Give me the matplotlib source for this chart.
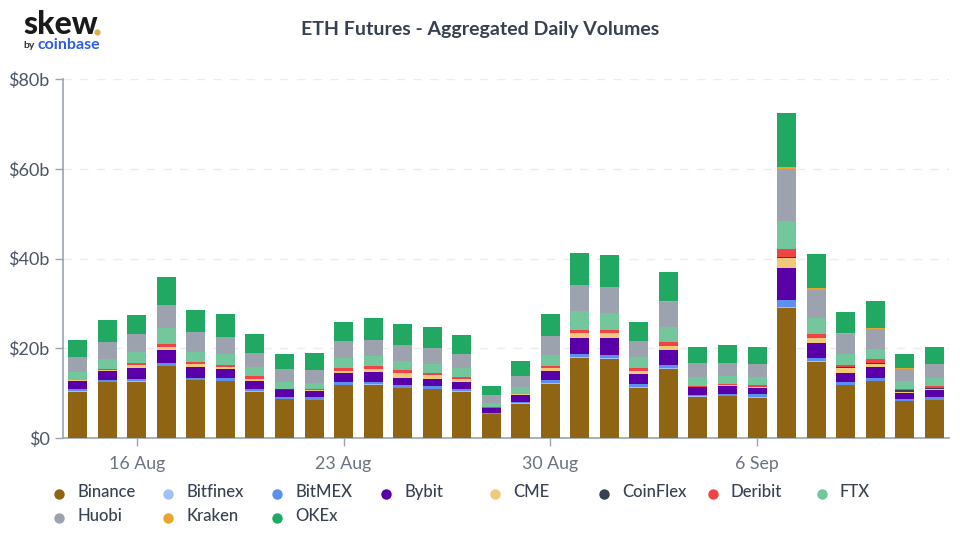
"""
plot.py
-------
ETH futures, aggregated daily volumes per exchange (stacked bars).
"""

import numpy as np
import pandas as pd
import matplotlib
matplotlib.use("Agg")
import matplotlib.pyplot as plt
from matplotlib.lines import Line2D

plt.rcParams['font.family'] = ['Lato', 'DejaVu Sans']

# === DATA (billions USD) ===
dates = pd.date_range("2021-08-14", periods=30)
tick_dates = ["2021-08-16", "2021-08-23", "2021-08-30", "2021-09-06"]
tick_labels = ["16 Aug", "23 Aug", "30 Aug", "6 Sep"]
y_ticks = [0, 20, 40, 60, 80]
y_labels = ["$0", "$20b", "$40b", "$60b", "$80b"]

binance = [10.3, 12.4, 12.55, 16.0, 12.85, 12.6, 10.3, 8.6, 8.4, 11.75,
           11.9, 11.15, 10.9, 10.3, 5.3, 7.6, 12.05, 17.9, 17.7, 11.2,
           15.45, 9.15, 9.3, 9.0, 29.0, 17.0, 11.8, 12.7, 8.25, 8.45]
bitfinex = [0.1, 0.1, 0.1, 0.1, 0.1, 0.1, 0.1, 0.1, 0.1, 0.1,
            0.1, 0.1, 0.1, 0.1, 0.1, 0.1, 0.1, 0.1, 0.1, 0.1,
            0.1, 0.1, 0.1, 0.1, 0.1, 0.1, 0.1, 0.1, 0.1, 0.1]
bitmex = [0.5, 0.35, 0.5, 0.7, 0.5, 0.6, 0.45, 0.45, 0.55, 0.7,
          0.55, 0.55, 0.5, 0.6, 0.25, 0.4, 0.7, 0.8, 0.7, 0.75,
          0.8, 0.4, 0.5, 0.65, 1.65, 0.8, 0.5, 0.5, 0.35, 0.5]
bybit = [1.9, 2.15, 2.55, 2.9, 2.45, 2.0, 1.75, 1.55, 1.5, 1.85,
         2.1, 1.65, 1.65, 1.4, 0.95, 1.4, 2.1, 3.4, 3.85, 2.3,
         3.25, 1.65, 1.75, 1.45, 7.2, 3.2, 2.1, 2.45, 1.4, 1.55]
cme = [0.1, 0.2, 0.6, 0.65, 0.6, 0.5, 0.6, 0.1, 0.15, 0.6,
       0.8, 1.1, 0.9, 0.7, 0.15, 0.25, 0.55, 1.1, 1.05, 0.6,
       0.9, 0.15, 0.15, 0.15, 2.1, 1.1, 1.0, 0.75, 0.2, 0.25]
coinflex = [0.01, 0.01, 0.01, 0.01, 0.01, 0.01, 0.01, 0.01, 0.01, 0.01,
            0.01, 0.01, 0.01, 0.01, 0.01, 0.01, 0.01, 0.01, 0.01, 0.01,
            0.01, 0.01, 0.01, 0.01, 0.2, 0.15, 0.25, 0.3, 0.4, 0.35]
deribit = [0.1, 0.25, 0.3, 0.6, 0.4, 0.5, 0.55, 0.1, 0.1, 0.55,
           0.6, 0.55, 0.45, 0.5, 0.1, 0.15, 0.6, 0.75, 0.65, 0.55,
           0.8, 0.2, 0.3, 0.4, 1.85, 0.9, 0.5, 0.75, 0.3, 0.3]
ftx = [1.8, 2.15, 2.5, 3.45, 2.3, 2.4, 2.05, 1.6, 1.45, 2.35,
       2.3, 2.05, 1.9, 1.9, 0.95, 1.45, 2.4, 4.25, 3.8, 2.6,
       3.45, 1.85, 1.8, 1.85, 6.2, 3.5, 2.45, 2.3, 1.7, 1.8]
huobi = [3.25, 3.7, 4.0, 5.3, 4.35, 3.7, 3.2, 2.8, 2.9, 3.6,
         3.55, 3.55, 3.6, 3.15, 1.8, 2.45, 4.15, 5.7, 5.75, 3.4,
         5.55, 3.15, 2.9, 2.95, 11.6, 6.3, 4.4, 4.45, 2.7, 3.1]
kraken = [0.01, 0.01, 0.01, 0.01, 0.01, 0.01, 0.01, 0.01, 0.01, 0.01,
          0.01, 0.01, 0.01, 0.01, 0.01, 0.01, 0.01, 0.01, 0.01, 0.01,
          0.2, 0.01, 0.01, 0.01, 0.55, 0.3, 0.2, 0.15, 0.1, 0.01]
okex = [3.85, 4.9, 4.4, 6.2, 4.9, 5.3, 4.2, 3.4, 3.75, 4.4,
        4.9, 4.7, 4.75, 4.35, 2.05, 3.3, 4.9, 7.2, 7.1, 4.35,
        6.4, 3.5, 3.8, 3.8, 12.0, 7.65, 4.85, 6.1, 3.3, 3.8]

series = [
    ("Binance", binance, "#8f6514"),
    ("Bitfinex", bitfinex, "#a3bffa"),
    ("BitMEX", bitmex, "#5f8fee"),
    ("Bybit", bybit, "#5a00a8"),
    ("CME", cme, "#f0c97a"),
    ("CoinFlex", coinflex, "#374151"),
    ("Deribit", deribit, "#f04444"),
    ("FTX", ftx, "#74c69d"),
    ("Huobi", huobi, "#9ca3af"),
    ("Kraken", kraken, "#e8a52e"),
    ("OKEx", okex, "#21a862"),
]

W, H = 960, 536


def fx(px):
    return px / W


def fy(px):
    return 1 - px / H


fig = plt.figure(figsize=(W / 100, H / 100), dpi=100)
ax = fig.add_axes([fx(63), fy(438), fx(949 - 63), (438 - 79) / H])

# --- stacked bars ---
x = np.arange(len(dates))
bottom = np.zeros(len(dates))
for name, values, color in series:
    ax.bar(x, values, width=0.645, bottom=bottom, color=color, linewidth=0, zorder=3)
    bottom += np.array(values)

ax.set_xlim(-0.5, len(dates) - 0.5)
ax.set_ylim(0, 80)

# --- axes ---
ax.set_yticks(y_ticks)
ax.set_yticklabels(y_labels, fontsize=13, color="#4b5563")
tick_pos = [dates.get_loc(pd.Timestamp(d)) for d in tick_dates]
ax.set_xticks(tick_pos)
ax.set_xticklabels(tick_labels, fontsize=12.8, color="#6b7280")
ax.tick_params(axis="y", length=5.5, width=1, color="#9ca3af", pad=4)
ax.tick_params(axis="x", length=6, width=1, color="#9ca3af", pad=7)
ax.grid(axis="y", color="#e9ebef", linestyle=(0, (6, 6)), linewidth=1, zorder=0)
ax.set_axisbelow(True)
for side in ["top", "right"]:
    ax.spines[side].set_visible(False)
for side in ["left", "bottom"]:
    ax.spines[side].set_color("#9ca3af")
    ax.spines[side].set_linewidth(1.2)

# --- title and logo ---
fig.text(fx(480.5), fy(29), "ETH Futures - Aggregated Daily Volumes", fontsize=14,
         fontweight="bold", color="#374151", ha="center", va="center")
fig.text(fx(23), fy(24), "skew", fontsize=23, fontweight="black", color="#1a1a1a",
         ha="left", va="center")
fig.add_artist(Line2D([fx(97)], [fy(32)], marker="o", markersize=4.5, color="#e0ae4c",
                      linestyle="none", markeredgewidth=0, transform=fig.transFigure))
fig.text(fx(23), fy(46), "by", fontsize=7.5, fontweight="bold", color="#333333",
         ha="left", va="center")
fig.text(fx(37), fy(45), "coinbase", fontsize=11.5, fontweight="bold", color="#2f5bea",
         ha="left", va="center")

# --- legend, drawn row by row like the original ---
for i, (name, values, color) in enumerate(series):
    col, row = i % 8, i // 8
    px = 59.3 + 108.9 * col
    py = 494 + 24 * row
    fig.add_artist(Line2D([fx(px)], [fy(py)], marker="o", markersize=7.5, color=color,
                          linestyle="none", markeredgewidth=0, transform=fig.transFigure))
    fig.text(fx(px + 18), fy(py - 2), name, fontsize=12, fontweight="medium",
             color="#374151", ha="left", va="center")

fig.savefig("out.png", dpi=100)
plt.close(fig)
